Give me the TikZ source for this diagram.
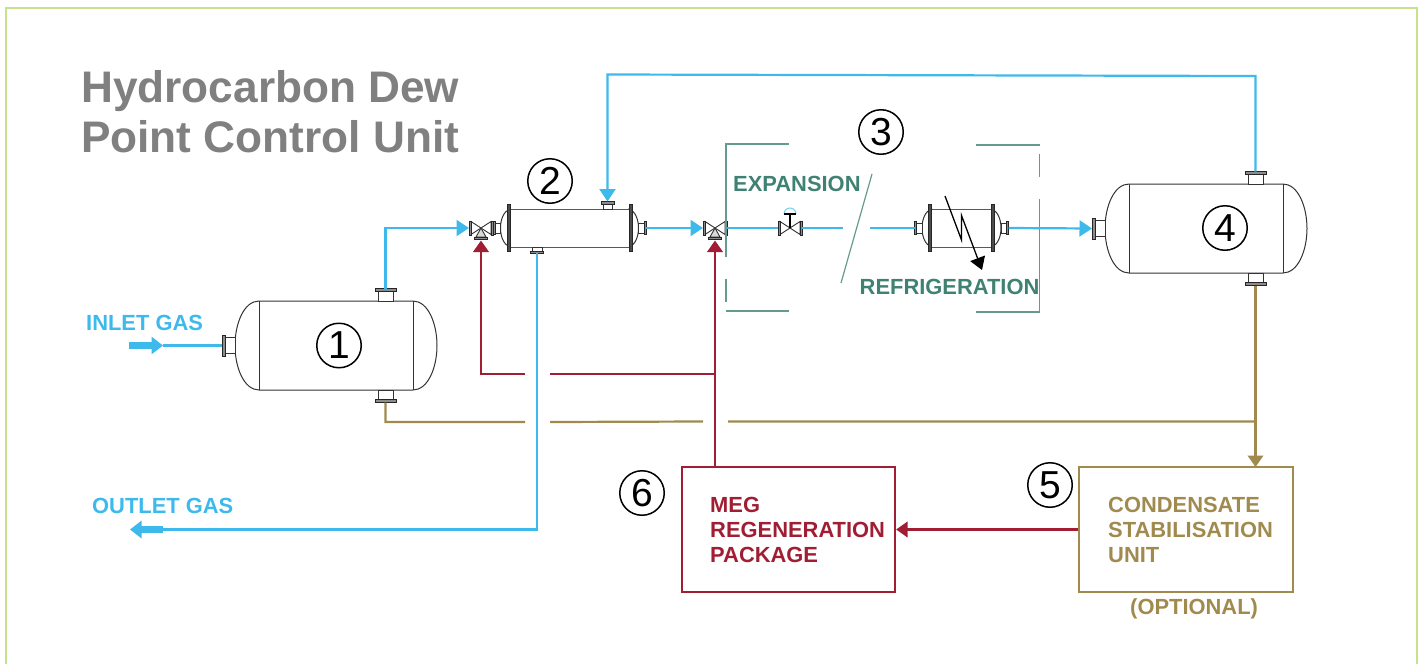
\documentclass[tikz,border=0pt]{standalone}
\usepackage{fontspec}
\setmainfont{Liberation Sans}
\usetikzlibrary{arrows.meta}
\definecolor{gasblue}{HTML}{3DB9EC}
\definecolor{megred}{HTML}{A11D33}
\definecolor{condtan}{HTML}{A08A4E}
\definecolor{grn}{HTML}{3F8273}
\definecolor{titlegrey}{HTML}{808080}
\definecolor{framegreen}{HTML}{C6E28E}
\tikzset{
  x=1pt,y=-1pt,
  eq/.style={draw=black!80,line width=1pt,fill=white},
  flange/.style={draw=black!85,line width=.8pt,fill=black!45},
  pipeblue/.style={draw=gasblue,line width=2.2pt},
  pipered/.style={draw=megred,line width=2.2pt},
  pipetan/.style={draw=condtan,line width=2.2pt},
  tipb/.style={-{Triangle[length=12.5pt,width=16pt]}},
  tipr/.style={-{Triangle[length=11.5pt,width=15.5pt]}},
  fatflow/.style={draw=gasblue,line width=7pt,-{Triangle[length=11.5pt,width=17pt]}},
  lab/.style={font=\fontsize{21.9}{25}\selectfont\bfseries,inner sep=0pt,align=left},
  ttl/.style={font=\fontsize{44.2}{50}\selectfont\bfseries,inner sep=0pt,align=left,text=titlegrey},
  num/.style={draw=black,line width=1.5pt,circle,minimum size=44.5pt,inner sep=0pt,fill=white,font=\fontsize{39}{39}\selectfont},
  greenline/.style={draw=grn!80,line width=1.2pt},
  pboxr/.style={draw=megred,line width=2.2pt,minimum width=213pt,minimum height=125pt,inner sep=0pt},
  pboxt/.style={draw=condtan,line width=2.2pt,minimum width=214pt,minimum height=125pt,inner sep=0pt},
  vessel/.pic={
    \path[eq] (-77,-44.5) -- (77,-44.5) .. controls (92,-44.5) and (101,-22) .. (101,0)
       .. controls (101,22) and (92,44.5) .. (77,44.5) -- (-77,44.5)
       .. controls (-92,44.5) and (-101,22) .. (-101,0) .. controls (-101,-22) and (-92,-44.5) .. (-77,-44.5) -- cycle;
    \draw[eq] (-77,-44.5) -- (-77,44.5) (77,-44.5) -- (77,44.5);
    \path[eq,line width=.9pt] (-101,-8) rectangle (-111,8);
    \path[flange] (-114,-10.5) rectangle (-111,10.5);
    \path[eq,line width=.9pt] (42,-44.5) rectangle (57,-54);
    \path[flange] (39,-57) rectangle (60,-54);
    \path[eq,line width=.9pt] (42,44.5) rectangle (57,54);
    \path[flange] (39,54) rectangle (60,57);
    \coordinate (-in) at (-114,0);
    \coordinate (-top) at (49.5,-57);
    \coordinate (-bot) at (49.5,57);
  },
  exch/.pic={
    \def\hw{#1}
    \path[eq] (-\hw,-19) .. controls (-\hw-6,-17) and (-\hw-9.5,-9) .. (-\hw-9.5,0)
       .. controls (-\hw-9.5,9) and (-\hw-6,17) .. (-\hw,19) -- cycle;
    \path[eq] (\hw,-19) .. controls (\hw+6,-17) and (\hw+9.5,-9) .. (\hw+9.5,0)
       .. controls (\hw+9.5,9) and (\hw+6,17) .. (\hw,19) -- cycle;
    \path[eq,draw=black!65] (-\hw,-19) rectangle (\hw,19);
    \path[flange,fill=black!70] (-\hw-3,-24) rectangle (-\hw,23.5);
    \path[flange,fill=black!70] (\hw,-24) rectangle (\hw+3,23.5);
    \path[eq,line width=.9pt] (-\hw-9.5,-5) rectangle (-\hw-15,5);
    \path[flange] (-\hw-17,-6.5) rectangle (-\hw-15,6.5);
    \path[eq,line width=.9pt] (\hw+9.5,-5) rectangle (\hw+15,5);
    \path[flange] (\hw+15,-6.5) rectangle (\hw+17,6.5);
    \coordinate (-in) at (-\hw-17,0);
    \coordinate (-out) at (\hw+17,0);
  },
  exch/.default=60,
  valvebody/.pic={
    \path[eq,line width=.9pt] (0,0) -- (-10,-6.5) -- (-10,6.5) -- cycle;
    \path[eq,line width=.9pt] (0,0) -- (10,-6.5) -- (10,6.5) -- cycle;
    \path[flange] (-12,-7) rectangle (-10,7);
    \path[flange] (10,-7) rectangle (12,7);
    \coordinate (-in) at (-12,0);
    \coordinate (-out) at (12,0);
  },
  threeway/.pic={
    \path pic (-b) {valvebody};
    \path[eq,line width=.9pt,fill=black!15] (0,0) -- (-5,9) -- (5,9) -- cycle;
    \path[flange] (-6.5,9) rectangle (6.5,11.5);
    \coordinate (-in) at (-12,0);
    \coordinate (-out) at (12,0);
    \coordinate (-sig) at (0,12.5);
  },
  ctrlvalve/.pic={
    \path pic (-b) {valvebody};
    \draw[gasblue!70,line width=1pt] (-6,-14) arc[start angle=180,end angle=360,radius=6];
    \draw[black,line width=1.1pt] (0,0) -- (0,-14);
    \draw[black,line width=1.1pt] (-6,-14) -- (6,-14);
    \coordinate (-in) at (-12,0);
    \coordinate (-out) at (12,0);
  },
}
\begin{document}
\begin{tikzpicture}
\useasboundingbox (0,0) rectangle (1422,664);
% outer frame
\coordinate (f1) at (6,664); \coordinate (f2) at (6,8);
\coordinate (f3) at (1416.5,8); \coordinate (f4) at (1416.5,664);
\draw[framegreen,line width=2pt] (f1) -- (f2) -- (f3) -- (f4);
% title
\node[ttl,anchor=west] (title) at (81,112) {Hydrocarbon Dew\\Point Control Unit};
% equipment
\path (336,345.5) pic (v1) {vessel};
\path (1206,228.5) pic (v4) {vessel};
\path (569.5,228) pic (e2) {exch=59.5};
\path[eq,line width=.9pt] (603,209) rectangle (612.5,204);
\path[flange] (601,204) rectangle (614,201.5);
\coordinate (e2top) at (607.5,201.5);
\path[eq,line width=.9pt] (532,247) rectangle (542,251);
\path[flange] (530.5,251) rectangle (543,253);
\coordinate (e2bot) at (536.8,253);
\path (961.5,228) pic (e3) {exch=30};
\path (481,228) pic (tv1) {threeway};
\path (715,228) pic (tv2) {threeway};
\path (790,228) pic (cv) {ctrlvalve};
% green scope brackets
\coordinate (g1) at (789,144); \coordinate (g2) at (726,144); \coordinate (g3) at (726,257);
\coordinate (g4) at (726,279); \coordinate (g5) at (726,302);
\coordinate (g6) at (726,311); \coordinate (g7) at (789,311);
\draw[greenline] (g1) -- (g2) -- (g3) (g4) -- (g5) (g6) -- (g7);
\coordinate (h1) at (976,145); \coordinate (h2) at (1039.5,145);
\coordinate (h3) at (1039.5,154); \coordinate (h4) at (1039.5,177);
\coordinate (h5) at (1039.5,199); \coordinate (h6) at (1039.5,312); \coordinate (h7) at (976,312);
\draw[greenline] (h1) -- (h2) (h3) -- (h4) (h5) -- (h6) -- (h7);
\coordinate (s1) at (872,174); \coordinate (s2) at (841,283);
\draw[greenline] (s1) -- (s2);
% refrigeration zigzag
\coordinate (z1) at (945,196); \coordinate (z2) at (961.5,240);
\coordinate (z3) at (961.5,215.5); \coordinate (z4) at (982,270);
\draw[black,line width=1.3pt,-{Triangle[length=12.5pt,width=15.5pt]}] (z1) -- (z2) -- (z3) -- (z4);
% boxes
\node[pboxr] (b6) at (788.5,529.5) {};
\node[pboxt] (b5) at (1186,529.5) {};
% blue pipes
\coordinate (inA) at (129,345.5); \coordinate (inB) at (163,345.5);
\draw[fatflow] (inA) -- (inB);
\draw[pipeblue] (inB) -- (v1-in);
\coordinate (c1) at (385.5,228);
\draw[pipeblue,tipb] (v1-top) -- (c1) -- (tv1-in);
\draw[pipeblue,tipb] (e2-out) -- (tv2-in);
\coordinate (bl1) at (843,228); \coordinate (bl2) at (870,228);
\draw[pipeblue] (tv2-out) -- (cv-in) (cv-out) -- (bl1) (bl2) -- (e3-in);
\draw[pipeblue,tipb] (e3-out) -- (v4-in);
\coordinate (t1) at (1255.5,76); \coordinate (t2) at (607.5,74.5);
\draw[pipeblue,tipb] (v4-top) -- (t1) -- (t2) -- (e2top);
\coordinate (o1) at (536.8,529.5); \coordinate (o2) at (163,529.5); \coordinate (o3) at (130,529.5);
\draw[pipeblue] (e2bot) -- (o1) -- (o2);
\draw[fatflow] (o2) -- (o3);
% red pipes
\coordinate (r1) at (481,374); \coordinate (r2) at (525,374);
\coordinate (r3) at (550,374); \coordinate (r4) at (715,374);
\coordinate (r5) at (715,467);
\draw[pipered,tipr] (r5) -- (tv2-sig);
\draw[pipered,tipr] (r2) -- (r1) -- (tv1-sig);
\draw[pipered] (r3) -- (r4);
\draw[pipered,tipr] (b5.west) -- (b6.east);
% tan pipes
\coordinate (k1) at (385.5,422); \coordinate (k2) at (525,422);
\coordinate (k3) at (550,422); \coordinate (k4) at (703,421.5);
\coordinate (k5) at (728,421.5); \coordinate (k6) at (1255.5,421.5);
\coordinate (k7) at (1255.5,467);
\draw[pipetan] (v1-bot) -- (k1) -- (k2) (k3) -- (k4) (k5) -- (k6);
\draw[pipetan,tipr] (v4-bot) -- (k7);
% labels
\node[lab,text=gasblue,anchor=base west] (lin) at (86,330) {INLET GAS};
\node[lab,text=gasblue,anchor=base west] (lout) at (92,513) {OUTLET GAS};
\node[lab,text=grn,anchor=base west] (lexp) at (733,191) {EXPANSION};
\node[lab,text=grn,anchor=base west] (lref) at (859.5,294) {REFRIGERATION};
\node[lab,text=megred,anchor=west] (lmeg) at (710,530) {MEG\\REGENERATION\\PACKAGE};
\node[lab,text=condtan,anchor=west] (lcond) at (1108,530) {CONDENSATE\\STABILISATION\\UNIT};
\node[lab,text=condtan,anchor=base west] (lopt) at (1130,614) {(OPTIONAL)};
% numbers
\node[num] (n1) at (339,345.5) {1};
\node[num] (n2) at (550,181) {2};
\node[num] (n3) at (881,132) {3};
\node[num] (n4) at (1225,228) {4};
\node[num] (n5) at (1050,485) {5};
\node[num] (n6) at (642,493) {6};
\end{tikzpicture}
\end{document}
